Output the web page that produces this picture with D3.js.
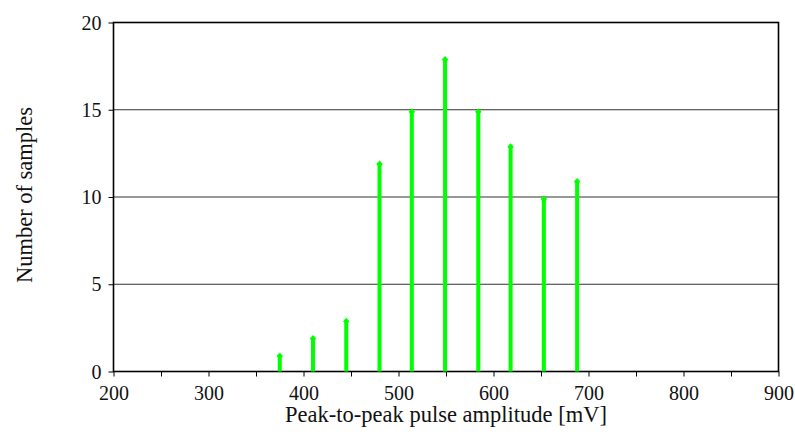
<!DOCTYPE html>
<html><head><meta charset="utf-8">
<script src="https://cdn.jsdelivr.net/npm/d3@7"></script>
<style>body{margin:0;background:#fff}</style>
</head><body><svg id="c" width="795" height="437"></svg>
<script>
const amplitudes = [375, 410, 445, 480, 514, 549, 584, 618, 653, 688];
const counts = [1, 2, 3, 12, 15, 18, 15, 13, 10, 11];
const xTicks = [200, 250, 300, 350, 400, 450, 500, 550, 600, 650, 700, 750, 800, 850, 900];
const xLabels = [200, 300, 400, 500, 600, 700, 800, 900];
const yTicks = [0, 5, 10, 15, 20];
const gridVals = [5, 10, 15];

const svg = d3.select("#c");
const m = {l: 113.5, r: 778.5, t: 22.5, b: 371.5};
const x = d3.scaleLinear().domain([200, 900]).range([m.l, m.r]);
const y = d3.scaleLinear().domain([0, 20]).range([m.b, m.t]);
const FSTYLE = "font-family:'Times New Roman', serif";

svg.append("g").selectAll("line").data(gridVals).join("line")
  .attr("x1", m.l).attr("x2", m.r).attr("y1", d => y(d)).attr("y2", d => y(d))
  .attr("stroke", "#333").attr("stroke-width", 1.2);

const xa = svg.append("g").attr("transform", `translate(0,${m.b})`)
  .call(d3.axisBottom(x).tickValues(xTicks).tickSize(5).tickSizeOuter(0)
    .tickFormat(d => xLabels.includes(d) ? d : ""));
xa.select(".domain").remove();
xa.selectAll("line").attr("stroke", "#000");
xa.selectAll("text").attr("font-size", 20).attr("y", 28.5).attr("dy", 0).attr("fill", "#111")
  .attr("style", FSTYLE);

const ya = svg.append("g").attr("transform", `translate(${m.l},0)`)
  .call(d3.axisLeft(y).tickValues(yTicks).tickSize(5).tickSizeOuter(0));
ya.select(".domain").remove();
ya.selectAll("line").attr("stroke", "#000");
ya.selectAll("text").attr("font-size", 20).attr("x", -12).attr("dy", "0.33em").attr("fill", "#111")
  .attr("style", FSTYLE);

svg.append("rect").attr("x", m.l).attr("y", m.t).attr("width", m.r - m.l).attr("height", m.b - m.t)
  .attr("fill", "none").attr("stroke", "#000").attr("stroke-width", 1.6);

const g = svg.append("g");
const bw = 4;
g.selectAll("rect.bar").data(amplitudes).join("rect").attr("class", "bar")
  .attr("x", d => x(d) - bw / 2).attr("width", bw)
  .attr("y", (d, i) => y(counts[i]) + 2).attr("height", (d, i) => m.b - y(counts[i]) - 2)
  .attr("fill", "#00ff00");
g.selectAll("path.cap").data(amplitudes).join("path").attr("class", "cap")
  .attr("d", (d, i) => {
    const cx = x(d), cy = y(counts[i]);
    return `M${cx},${cy - 1.5} L${cx + 3.2},${cy + 2} L${cx + 2},${cy + 3.5} L${cx - 2},${cy + 3.5} L${cx - 3.2},${cy + 2} Z`;
  })
  .attr("fill", "#00ff00");

svg.append("text").attr("x", 446).attr("y", 422).attr("text-anchor", "middle")
  .attr("style", FSTYLE).attr("fill", "#111").attr("font-size", 22.5).text("Peak-to-peak pulse amplitude [mV]");
svg.append("text").attr("transform", `translate(32,195) rotate(-90)`)
  .attr("style", FSTYLE).attr("fill", "#111").attr("text-anchor", "middle").attr("font-size", 22.5).text("Number of samples");
</script></body></html>
